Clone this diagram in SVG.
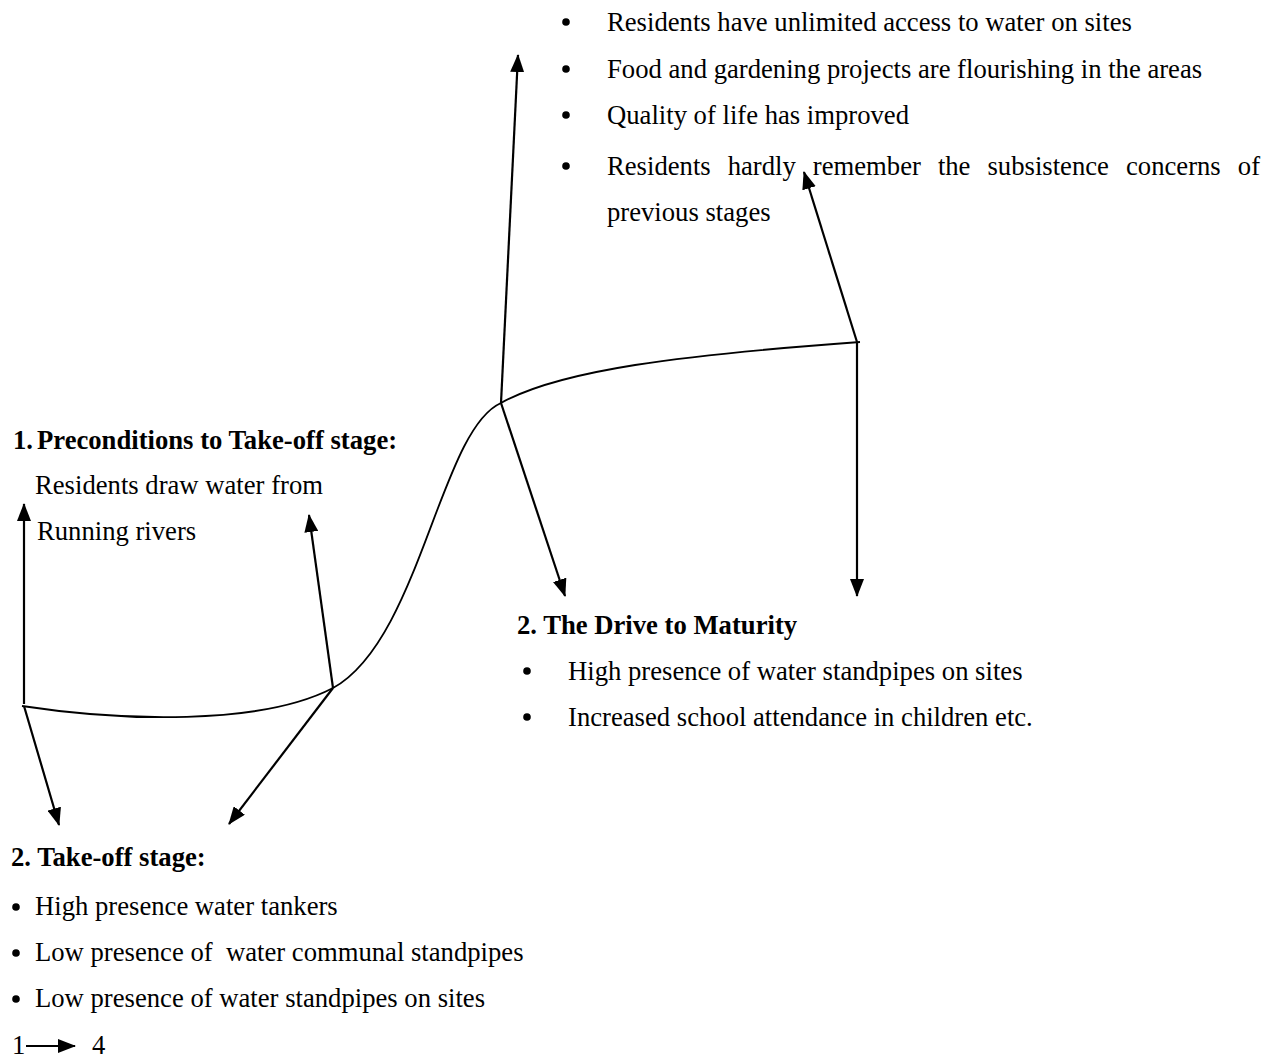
<svg xmlns="http://www.w3.org/2000/svg" width="1273" height="1059" viewBox="0 0 1273 1059">
<style>
text{font-family:"Liberation Serif","Times New Roman",serif;font-size:26.67px;fill:#000}
.b{font-weight:bold}
.ln{fill:none;stroke:#000;stroke-width:2.2}
.cv{fill:none;stroke:#000;stroke-width:1.8}
.dot{fill:#000}
</style>
<defs>
<marker id="ah" markerUnits="userSpaceOnUse" markerWidth="18" markerHeight="14" refX="17" refY="7" orient="auto">
<path d="M0,0 L18,7 L0,14 z" fill="#000"/>
</marker>
</defs>
<rect width="1273" height="1059" fill="#fff"/>
<g id="connectors">
<path id="curve" class="cv" d="M22,706 C120,721 260,726 333,688 C420,640 440,430 501,403 C560,370 680,355 860,342"/>
<line class="ln" x1="24" y1="704" x2="24" y2="504" marker-end="url(#ah)"/>
<line class="ln" x1="333" y1="688" x2="309" y2="515" marker-end="url(#ah)"/>
<line class="ln" x1="24" y1="706" x2="59" y2="825" marker-end="url(#ah)"/>
<line class="ln" x1="333" y1="688" x2="229" y2="824" marker-end="url(#ah)"/>
<line class="ln" x1="501" y1="403" x2="518" y2="55" marker-end="url(#ah)"/>
<line class="ln" x1="501" y1="403" x2="565" y2="596" marker-end="url(#ah)"/>
<line class="ln" x1="857" y1="342" x2="804" y2="172" marker-end="url(#ah)"/>
<line class="ln" x1="857" y1="342" x2="857" y2="596" marker-end="url(#ah)"/>
</g>
<g id="stage4">
<circle class="dot" cx="566" cy="22" r="3.8"/>
<circle class="dot" cx="566" cy="69" r="3.8"/>
<circle class="dot" cx="566" cy="115" r="3.8"/>
<circle class="dot" cx="566" cy="166" r="3.8"/>
<text x="607" y="31">Residents have unlimited access to water on sites</text>
<text x="607" y="78">Food and gardening projects are flourishing in the areas</text>
<text x="607" y="124">Quality of life has improved</text>
<text y="175"><tspan x="607">Residents</tspan><tspan x="727.7">hardly</tspan><tspan x="812.8">remember</tspan><tspan x="937.9">the</tspan><tspan x="987.5">subsistence</tspan><tspan x="1126">concerns</tspan><tspan x="1237.8">of</tspan></text>
<text x="607" y="221">previous stages</text>
</g>
<g id="stage1">
<text class="b" x="13" y="449">1.</text>
<text class="b" x="37" y="449">Preconditions to Take-off stage:</text>
<text x="35" y="494">Residents draw water from</text>
<text x="37" y="540">Running rivers</text>
</g>
<g id="stage3">
<text class="b" x="517" y="634">2. The Drive to Maturity</text>
<circle class="dot" cx="527" cy="671" r="3.8"/>
<circle class="dot" cx="527" cy="717" r="3.8"/>
<text x="568" y="680">High presence of water standpipes on sites</text>
<text x="568" y="726">Increased school attendance in children etc.</text>
</g>
<g id="stage2">
<text class="b" x="11" y="866">2. Take-off stage:</text>
<circle class="dot" cx="16" cy="907" r="3.8"/>
<circle class="dot" cx="16" cy="953" r="3.8"/>
<circle class="dot" cx="16" cy="999" r="3.8"/>
<text x="35" y="915">High presence water tankers</text>
<text x="35" y="961" xml:space="preserve">Low presence of  water communal standpipes</text>
<text x="35" y="1007">Low presence of water standpipes on sites</text>
</g>
<g id="legend">
<text x="12" y="1054">1</text>
<line class="ln" x1="26" y1="1046" x2="75" y2="1046" marker-end="url(#ah)"/>
<text x="92" y="1054">4</text>
</g>
</svg>
